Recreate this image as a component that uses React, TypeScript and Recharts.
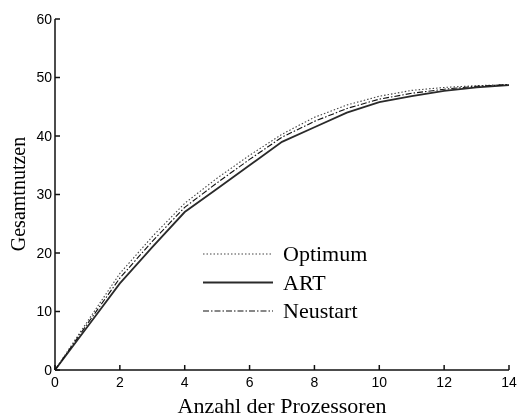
import React from "react";
import {LineChart, Line, XAxis, YAxis, Legend} from "recharts";

const processors = [0, 1, 2, 3, 4, 5, 6, 7, 8, 9, 10, 11, 12, 13, 14];
const optimum = [0, 8.3, 16.5, 22.8, 28.5, 32.8, 36.7, 40.3, 43.2, 45.3, 46.8, 47.8, 48.3, 48.6, 48.8];
const art = [0, 7.4, 14.8, 21, 27, 31, 35, 39, 41.5, 44, 45.8, 46.8, 47.7, 48.3, 48.7];
const neustart = [0, 7.9, 15.7, 22, 27.8, 32, 36, 39.8, 42.5, 44.7, 46.3, 47.3, 48, 48.5, 48.8];

const xTicks = [0, 2, 4, 6, 8, 10, 12, 14];
const yTicks = [0, 10, 20, 30, 40, 50, 60];

const xLabel = "Anzahl der Prozessoren";
const yLabel = "Gesamtnutzen";

const series = [
	{key: "optimum", name: "Optimum", stroke: "#444", width: 1.1, dash: "1.5 2"},
	{key: "art", name: "ART", stroke: "#2a2a2a", width: 1.8, dash: undefined},
	{key: "neustart", name: "Neustart", stroke: "#111", width: 1.1, dash: "6 2 1.5 2"},
];

const data = processors.map((p, i) => ({
	p,
	optimum: optimum[i],
	art: art[i],
	neustart: neustart[i],
}));

const serif = "'Liberation Serif', 'Times New Roman', serif";
const sans = "'Liberation Sans', Arial, sans-serif";

const renderLegend = () => {
	return <svg width={200} height={90}>
		{series.map((s, i) => {
			const y = 16 + i * 28.5;
			return <g key={s.key}>
				<line x1={5} x2={75} y1={y} y2={y} stroke={s.stroke} strokeWidth={s.width} strokeDasharray={s.dash}/>
				<text x={85} y={y + 7} fontFamily={serif} fontSize={22} fill="#000">{s.name}</text>
			</g>
		})}
	</svg>
};

const renderXLabel = () => <text x={282} y={413} textAnchor="middle" fontFamily={serif} fontSize={22} fill="#000">{xLabel}</text>;

const renderYLabel = () => <text x={25} y={194} textAnchor="middle" transform="rotate(-90 25 194)"
															 fontFamily={serif} fontSize={20} fill="#000">{yLabel}</text>;

const axisStyle = {stroke: "#111", strokeWidth: 1.5};

export default function App() {
	return <div style={{position: "fixed", left: 0, top: 0, width: 519, height: 419, overflow: "hidden"}}>
		<LineChart width={519} height={419} data={data} margin={{top: 19, right: 10, left: 0, bottom: 0}}>
			<XAxis dataKey="p" type="number" domain={[0, 14]} ticks={xTicks} height={49} tickSize={-5} tickMargin={12}
						 axisLine={axisStyle} tickLine={axisStyle}
						 tick={{fill: "#000", fontSize: 14, fontFamily: sans}} label={{content: renderXLabel}}/>
			<YAxis type="number" domain={[0, 60]} ticks={yTicks} width={55} tickSize={-5} tickMargin={8}
						 axisLine={axisStyle} tickLine={axisStyle}
						 tick={{fill: "#000", fontSize: 14, fontFamily: sans}} label={{content: renderYLabel}}/>
			<Legend layout="vertical" align="center" verticalAlign="middle" content={renderLegend}
							wrapperStyle={{left: 198, top: 238, width: 200}}/>
			{series.map(s => <Line key={s.key} dataKey={s.key} name={s.name} type="linear" stroke={s.stroke}
														 strokeWidth={s.width} strokeDasharray={s.dash} dot={false} isAnimationActive={false}/>)}
		</LineChart>
	</div>
}
